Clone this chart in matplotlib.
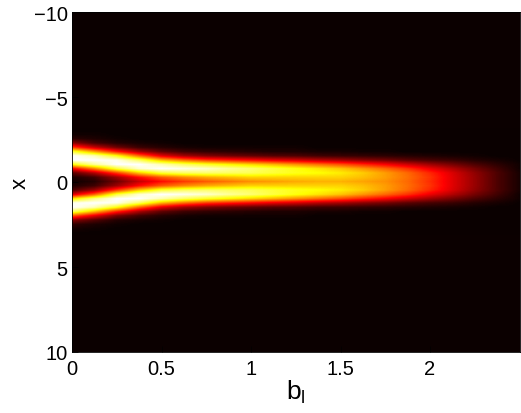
import numpy as np
import matplotlib
matplotlib.use('Agg')
import matplotlib.pyplot as plt

plt.rcParams['font.family'] = ['Liberation Sans', 'DejaVu Sans']
plt.rcParams['mathtext.fontset'] = 'custom'
plt.rcParams['mathtext.rm'] = 'Liberation Sans'

x_first, x_last, x_count = -3.0, 3.0, 25
b_first, b_last = 0.0, 2.5

p0000 = [.00, .01, .05, .20, .45, .80, 1.0, 1.0, .75, .35, .12, .03, .01, .03, .10, .30, .70, .98, 1.0, .85, .50, .20, .06, .02, .00]
p0125 = [.00, .01, .03, .09, .28, .60, .93, 1.0, .90, .56, .25, .08, .04, .08, .22, .50, .87, 1.0, .93, .65, .33, .11, .03, .01, .00]
p0250 = [.00, .00, .01, .04, .15, .40, .76, .98, 1.0, .80, .45, .22, .15, .22, .45, .80, 1.0, .98, .76, .42, .16, .04, .01, .00, .00]
p0375 = [.00, .00, .00, .02, .07, .23, .52, .84, 1.0, .95, .66, .38, .28, .38, .66, .95, 1.0, .84, .52, .24, .08, .02, .00, .00, .00]
p0500 = [.00, .00, .00, .01, .04, .13, .33, .64, .92, 1.0, .80, .50, .38, .50, .80, 1.0, .92, .64, .33, .13, .04, .01, .00, .00, .00]
p0625 = [.00, .00, .00, .00, .02, .08, .23, .53, .84, .98, .84, .57, .45, .57, .84, .98, .84, .53, .23, .08, .02, .00, .00, .00, .00]
p0750 = [.00, .00, .00, .00, .01, .06, .18, .45, .78, .95, .85, .62, .50, .62, .85, .95, .78, .45, .18, .06, .01, .00, .00, .00, .00]
p0875 = [.00, .00, .00, .00, .01, .05, .15, .41, .73, .90, .84, .65, .54, .65, .84, .90, .73, .41, .15, .05, .01, .00, .00, .00, .00]
p1000 = [.00, .00, .00, .00, .01, .04, .13, .37, .68, .86, .83, .68, .58, .68, .83, .86, .68, .37, .13, .04, .01, .00, .00, .00, .00]
p1125 = [.00, .00, .00, .00, .01, .03, .11, .33, .63, .81, .80, .68, .60, .68, .80, .81, .63, .33, .11, .03, .01, .00, .00, .00, .00]
p1250 = [.00, .00, .00, .00, .01, .03, .10, .30, .58, .76, .77, .68, .62, .68, .77, .76, .58, .30, .10, .03, .01, .00, .00, .00, .00]
p1375 = [.00, .00, .00, .00, .00, .02, .08, .26, .53, .71, .75, .68, .63, .68, .75, .71, .53, .26, .08, .02, .00, .00, .00, .00, .00]
p1500 = [.00, .00, .00, .00, .00, .02, .07, .23, .48, .66, .72, .68, .63, .68, .72, .66, .48, .23, .07, .02, .00, .00, .00, .00, .00]
p1625 = [.00, .00, .00, .00, .00, .01, .06, .19, .42, .59, .67, .65, .61, .65, .67, .59, .42, .19, .06, .01, .00, .00, .00, .00, .00]
p1750 = [.00, .00, .00, .00, .00, .01, .05, .16, .36, .52, .60, .60, .58, .60, .60, .52, .36, .16, .05, .01, .00, .00, .00, .00, .00]
p1875 = [.00, .00, .00, .00, .00, .00, .04, .12, .29, .44, .52, .53, .52, .53, .52, .44, .29, .12, .04, .00, .00, .00, .00, .00, .00]
p2000 = [.00, .00, .00, .00, .00, .00, .03, .09, .22, .34, .42, .44, .43, .44, .42, .34, .22, .09, .03, .00, .00, .00, .00, .00, .00]
p2125 = [.00, .00, .00, .00, .00, .00, .02, .07, .16, .25, .31, .32, .32, .32, .31, .25, .16, .07, .02, .00, .00, .00, .00, .00, .00]
p2250 = [.00, .00, .00, .00, .00, .00, .01, .04, .10, .16, .20, .21, .21, .21, .20, .16, .10, .04, .01, .00, .00, .00, .00, .00, .00]
p2375 = [.00, .00, .00, .00, .00, .00, .00, .02, .05, .08, .10, .10, .10, .10, .10, .08, .05, .02, .00, .00, .00, .00, .00, .00, .00]
p2500 = [.00, .00, .00, .00, .00, .00, .00, .00, .01, .01, .02, .02, .02, .02, .02, .01, .01, .00, .00, .00, .00, .00, .00, .00, .00]

x_ticks = [0, 0.5, 1, 1.5, 2]
x_ticklabels = ['0', '0.5', '1', '1.5', '2']
y_ticks = [-10, -5, 0, 5, 10]
y_ticklabels = ['\u221210', '\u22125', '0', '5', '10']

values = np.array([p0000, p0125, p0250, p0375, p0500, p0625, p0750, p0875, p1000, p1125, p1250,
                   p1375, p1500, p1625, p1750, p1875, p2000, p2125, p2250, p2375, p2500]).T

W, H = 521, 414
fig = plt.figure(figsize=(W / 100, H / 100), dpi=100, facecolor='white')
ax = fig.add_axes([72 / W, 1 - 353 / H, (519.5 - 72) / W, 340 / H])
cmap = plt.get_cmap('hot')
ax.set_facecolor(cmap(0.0))
dx = (x_last - x_first) / (x_count - 1) / 2
db = (b_last - b_first) / (values.shape[1] - 1) / 2
ax.imshow(values, cmap=cmap, vmin=0, vmax=1, aspect='auto', origin='upper',
          extent=[b_first - db, b_last + db, x_last + dx, x_first - dx],
          interpolation='bilinear', interpolation_stage='data')
ax.set_xlim(0, 2.5)
ax.set_ylim(10, -10)
ax.set_xticks(x_ticks, x_ticklabels)
ax.set_yticks(y_ticks, y_ticklabels)
ax.tick_params(axis='both', direction='in', length=4, width=0.5, color='black', labelsize=14.5, pad=3)
ax.tick_params(axis='x', pad=5)
for s in ax.spines.values():
    s.set_linewidth(0.6)
ax.set_xlabel(r'b$_{\mathrm{l}}$', fontsize=19, labelpad=0)
ax.set_ylabel('x', fontsize=16, labelpad=2)
fig.savefig('out.png', dpi=100)
